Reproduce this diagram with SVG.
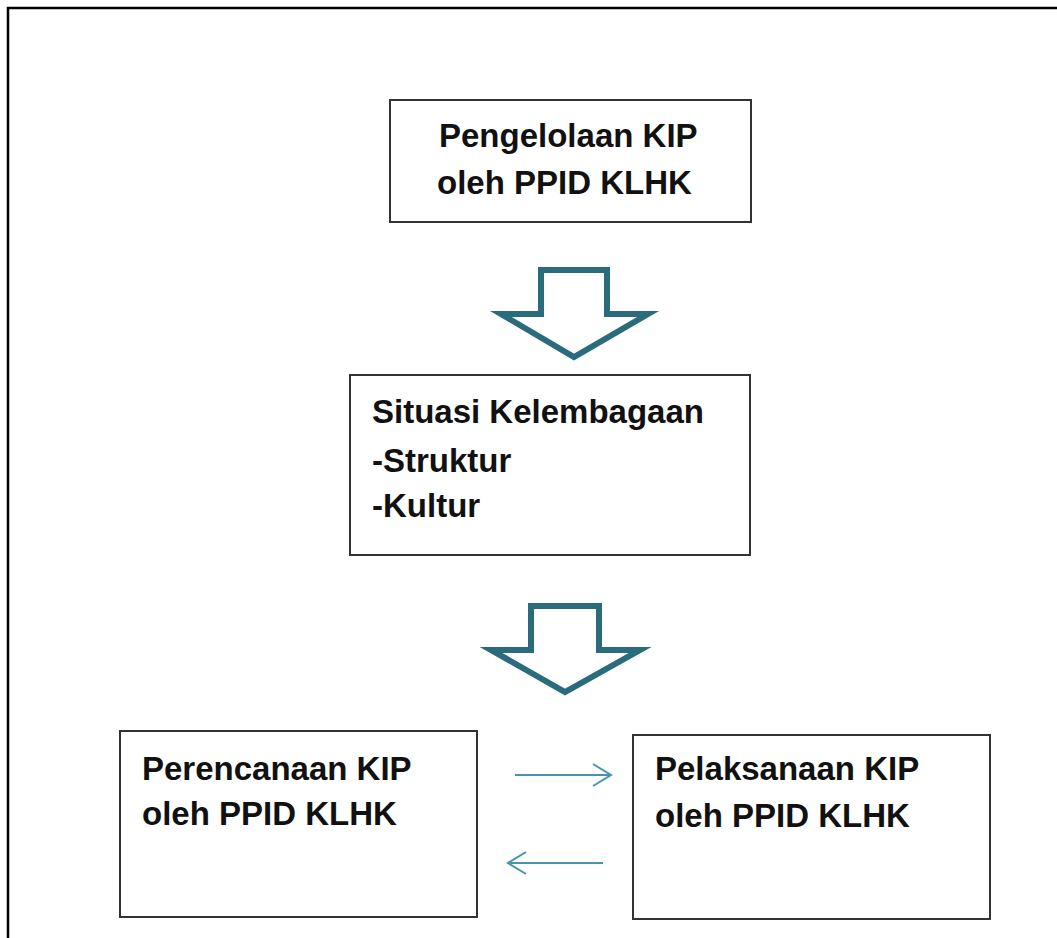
<svg xmlns="http://www.w3.org/2000/svg" width="1057" height="938" viewBox="0 0 1057 938">
<style>
.box{fill:#fff;stroke:#333;stroke-width:2}
.lbl{font-family:"Liberation Sans",Arial,sans-serif;font-weight:bold;font-size:33px;fill:#111}
.blk{fill:#fff;stroke:#2a6b7c;stroke-width:6;stroke-linejoin:miter}
.con{fill:none;stroke:#4596a8;stroke-width:2}
</style>
<defs>
<marker id="chev" viewBox="0 0 22 24" refX="20" refY="12" markerWidth="22" markerHeight="24" markerUnits="userSpaceOnUse" orient="auto">
<path d="M2,1 L20,12 L2,23" fill="none" stroke="#4596a8" stroke-width="2"/>
</marker>
</defs>
<rect width="1057" height="938" fill="#fff"/>
<rect x="8" y="8" width="1100" height="1000" fill="none" stroke="#000" stroke-width="2.5"/>
<g id="node-pengelolaan">
<rect class="box" x="390" y="100" width="361" height="122"/>
<text class="lbl" x="439" y="147">Pengelolaan KIP</text>
<text class="lbl" x="437" y="194">oleh PPID KLHK</text>
</g>
<g id="node-situasi">
<rect class="box" x="350" y="375" width="400" height="180"/>
<text class="lbl" x="372" y="423">Situasi Kelembagaan</text>
<text class="lbl" x="372" y="472">-Struktur</text>
<text class="lbl" x="372" y="517">-Kultur</text>
</g>
<g id="node-perencanaan">
<rect class="box" x="120" y="731" width="357" height="186"/>
<text class="lbl" x="142" y="780">Perencanaan KIP</text>
<text class="lbl" x="142" y="825">oleh PPID KLHK</text>
</g>
<g id="node-pelaksanaan">
<rect class="box" x="633" y="735" width="357" height="184"/>
<text class="lbl" x="655" y="780">Pelaksanaan KIP</text>
<text class="lbl" x="655" y="827">oleh PPID KLHK</text>
</g>
<g id="connectors">
<path class="blk" d="M541,270 L607,270 L607,314 L648,314 L574,357 L501,314 L541,314 Z"/>
<path class="blk" d="M531,606 L599,606 L599,650 L640,650 L565,692 L491,650 L531,650 Z"/>
<line class="con" x1="515" y1="775" x2="611" y2="775" marker-end="url(#chev)"/>
<line class="con" x1="603" y1="863" x2="508" y2="863" marker-end="url(#chev)"/>
</g>
</svg>
